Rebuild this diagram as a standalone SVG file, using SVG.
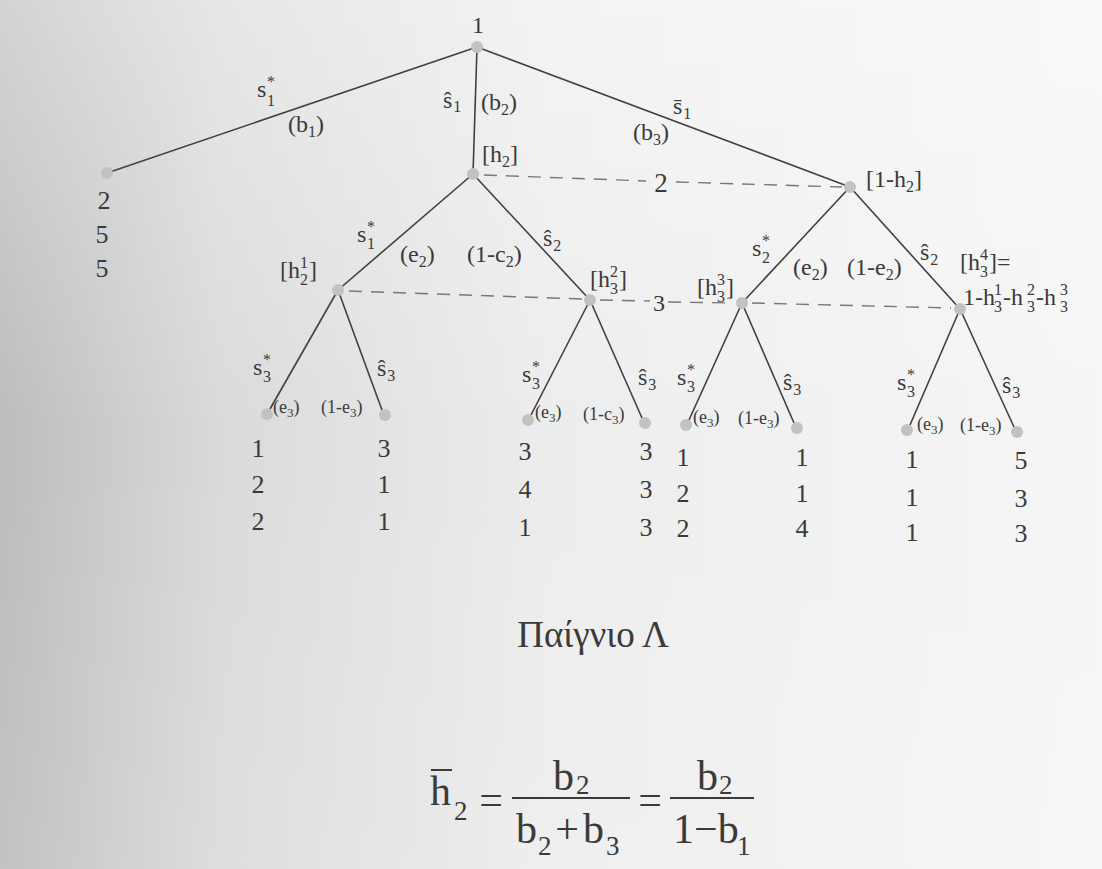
<svg xmlns="http://www.w3.org/2000/svg" width="1102" height="869" viewBox="0 0 1102 869">
<defs>
<linearGradient id="bg" x1="0" y1="0" x2="1" y2="0">
<stop offset="0" stop-color="#bcbcbc"/>
<stop offset="0.2" stop-color="#dadada"/>
<stop offset="0.5" stop-color="#ededed"/>
<stop offset="1" stop-color="#f6f6f6"/>
</linearGradient>
<linearGradient id="bgv" x1="0" y1="0" x2="0" y2="1">
<stop offset="0" stop-color="#ffffff" stop-opacity="0.35"/>
<stop offset="0.5" stop-color="#ffffff" stop-opacity="0"/>
<stop offset="1" stop-color="#ffffff" stop-opacity="0.1"/>
</linearGradient>
</defs>
<rect width="1102" height="869" fill="url(#bg)"/>
<rect width="1102" height="869" fill="url(#bgv)"/>

<g id="connectors" fill="none">
<g stroke="#404040" stroke-width="1.6">
<line x1="477" y1="47" x2="107" y2="173"/>
<line x1="477" y1="47" x2="473" y2="174"/>
<line x1="477" y1="47" x2="850" y2="187"/>
<line x1="473" y1="174" x2="338" y2="290"/>
<line x1="473" y1="174" x2="590" y2="300"/>
<line x1="850" y1="187" x2="742" y2="303"/>
<line x1="850" y1="187" x2="960" y2="309"/>
<line x1="338" y1="290" x2="270" y2="409"/>
<line x1="338" y1="290" x2="382" y2="410"/>
<line x1="590" y1="300" x2="531" y2="415"/>
<line x1="590" y1="300" x2="642" y2="418"/>
<line x1="742" y1="303" x2="689" y2="420"/>
<line x1="742" y1="303" x2="794" y2="423"/>
<line x1="960" y1="309" x2="910" y2="425"/>
<line x1="960" y1="309" x2="1014" y2="427"/>
</g>
<g stroke="#777777" stroke-width="1.4" stroke-dasharray="13 9">
<line x1="484" y1="175" x2="646" y2="181"/>
<line x1="676" y1="182" x2="842" y2="187"/>
<line x1="349" y1="291" x2="582" y2="299"/>
<line x1="600" y1="300" x2="650" y2="301"/>
<line x1="668" y1="302" x2="734" y2="303"/>
<line x1="752" y1="303" x2="951" y2="308"/>
</g>
</g>

<g id="nodes" fill="#3a3a3a" font-family="Liberation Serif">
<g id="root">
<circle fill="#c2c2c2" cx="477" cy="47" r="6"/>
<text font-family="Liberation Serif" font-size="24" x="478" y="33" text-anchor="middle">1</text>
</g>
<g id="leaf0" text-anchor="middle">
<circle fill="#c2c2c2" cx="107" cy="173" r="6"/>
<text font-family="Liberation Serif" font-size="26" x="104" y="209">2</text>
<text font-family="Liberation Serif" font-size="26" x="102" y="243">5</text>
<text font-family="Liberation Serif" font-size="26" x="102" y="277">5</text>
</g>
<g id="edge-labels-1">
<text font-family="Liberation Serif" font-size="24" x="257" y="97">s</text><text font-family="Liberation Serif" font-size="16" x="267" y="87">*</text><text font-family="Liberation Serif" font-size="16" x="267" y="106">1</text>
<text font-family="Liberation Serif" font-size="24" x="288" y="132">(b<tspan font-size="16" dy="5">1</tspan><tspan dy="-5">)</tspan></text>
<text font-family="Liberation Serif" font-size="24" x="443" y="108">ŝ<tspan font-size="16" dx="1" dy="4">1</tspan></text>
<text font-family="Liberation Serif" font-size="24" x="481" y="110">(b<tspan font-size="16" dy="5">2</tspan><tspan dy="-5">)</tspan></text>
<text font-family="Liberation Serif" font-size="24" x="673" y="114">s̄<tspan font-size="16" dx="1" dy="5">1</tspan></text>
<text font-family="Liberation Serif" font-size="24" x="633" y="140">(b<tspan font-size="16" dy="5">3</tspan><tspan dy="-5">)</tspan></text>
</g>
<g id="h2">
<circle fill="#c2c2c2" cx="473" cy="174" r="6"/>
<text font-family="Liberation Serif" font-size="24" x="482" y="162">[h<tspan font-size="16" dy="5">2</tspan><tspan dy="-5">]</tspan></text>
</g>
<g id="one-minus-h2">
<circle fill="#c2c2c2" cx="850" cy="187" r="6"/>
<text font-family="Liberation Serif" font-size="24" x="866" y="187">[1-h<tspan font-size="16" dy="5">2</tspan><tspan dy="-5">]</tspan></text>
</g>
<g id="info2">
<text font-family="Liberation Serif" font-size="27" x="661" y="192" text-anchor="middle">2</text>
</g>
<g id="edge-labels-2">
<text font-family="Liberation Serif" font-size="24" x="357" y="242">s</text><text font-family="Liberation Serif" font-size="16" x="367" y="232">*</text><text font-family="Liberation Serif" font-size="16" x="367" y="249">1</text>
<text font-family="Liberation Serif" font-size="24" x="400" y="262">(e<tspan font-size="16" dy="5">2</tspan><tspan dy="-5">)</tspan></text>
<text font-family="Liberation Serif" font-size="24" x="467" y="262">(1-c<tspan font-size="16" dy="5">2</tspan><tspan dy="-5">)</tspan></text>
<text font-family="Liberation Serif" font-size="24" x="543" y="246">ŝ<tspan font-size="16" dx="1" dy="5">2</tspan></text>
<text font-family="Liberation Serif" font-size="24" x="752" y="256">s</text><text font-family="Liberation Serif" font-size="16" x="762" y="246">*</text><text font-family="Liberation Serif" font-size="16" x="762" y="263">2</text>
<text font-family="Liberation Serif" font-size="24" x="793" y="275">(e<tspan font-size="16" dy="5">2</tspan><tspan dy="-5">)</tspan></text>
<text font-family="Liberation Serif" font-size="24" x="847" y="275">(1-e<tspan font-size="16" dy="5">2</tspan><tspan dy="-5">)</tspan></text>
<text font-family="Liberation Serif" font-size="24" x="920" y="260">ŝ<tspan font-size="16" dx="1" dy="5">2</tspan></text>
</g>
<g id="h2-1">
<circle fill="#c2c2c2" cx="338" cy="290" r="6"/>
<text font-family="Liberation Serif" font-size="24" x="280" y="278">[h</text><text font-family="Liberation Serif" font-size="16" x="300" y="268">1</text><text font-family="Liberation Serif" font-size="16" x="300" y="285">2</text><text font-family="Liberation Serif" font-size="24" x="309" y="278">]</text>
</g>
<g id="h3-2">
<circle fill="#c2c2c2" cx="590" cy="300" r="6"/>
<text font-family="Liberation Serif" font-size="24" x="590" y="287">[h</text><text font-family="Liberation Serif" font-size="16" x="610" y="277">2</text><text font-family="Liberation Serif" font-size="16" x="610" y="294">3</text><text font-family="Liberation Serif" font-size="24" x="619" y="287">]</text>
</g>
<g id="info3">
<text font-family="Liberation Serif" font-size="24" x="659" y="311" text-anchor="middle">3</text>
</g>
<g id="h3-3">
<circle fill="#c2c2c2" cx="742" cy="303" r="6"/>
<text font-family="Liberation Serif" font-size="24" x="697" y="295">[h</text><text font-family="Liberation Serif" font-size="16" x="717" y="285">3</text><text font-family="Liberation Serif" font-size="16" x="717" y="302">3</text><text font-family="Liberation Serif" font-size="24" x="726" y="295">]</text>
</g>
<g id="h3-4">
<circle fill="#c2c2c2" cx="960" cy="309" r="6"/>
<text font-family="Liberation Serif" font-size="24" x="960" y="270">[h</text><text font-family="Liberation Serif" font-size="16" x="980" y="260">4</text><text font-family="Liberation Serif" font-size="16" x="980" y="277">3</text><text font-family="Liberation Serif" font-size="24" x="989" y="270">]=</text>
<text font-family="Liberation Serif" font-size="24" x="963" y="305">1-h</text><text font-family="Liberation Serif" font-size="16" x="994" y="295">1</text><text font-family="Liberation Serif" font-size="16" x="994" y="312">3</text>
<text font-family="Liberation Serif" font-size="24" x="1003" y="305">-h</text><text font-family="Liberation Serif" font-size="16" x="1027" y="295">2</text><text font-family="Liberation Serif" font-size="16" x="1027" y="312">3</text>
<text font-family="Liberation Serif" font-size="24" x="1036" y="305">-h</text><text font-family="Liberation Serif" font-size="16" x="1060" y="295">3</text><text font-family="Liberation Serif" font-size="16" x="1060" y="312">3</text>
</g>

<g id="sub1">
<text font-family="Liberation Serif" font-size="24" x="253" y="375">s</text><text font-family="Liberation Serif" font-size="16" x="263" y="365">*</text><text font-family="Liberation Serif" font-size="16" x="263" y="382">3</text>
<text font-family="Liberation Serif" font-size="24" x="377" y="376">ŝ<tspan font-size="16" dx="1" dy="5">3</tspan></text>
<text font-family="Liberation Serif" font-size="18" x="273" y="413">(e<tspan font-size="13" dy="4">3</tspan><tspan dy="-4">)</tspan></text>
<text font-family="Liberation Serif" font-size="18" x="321" y="413">(1-e<tspan font-size="13" dy="4">3</tspan><tspan dy="-4">)</tspan></text>
</g>
<g id="leaf1" text-anchor="middle">
<circle fill="#c2c2c2" cx="267" cy="414" r="6"/>
<text font-family="Liberation Serif" font-size="26" x="258" y="457">1</text><text font-family="Liberation Serif" font-size="26" x="258" y="493">2</text><text font-family="Liberation Serif" font-size="26" x="258" y="530">2</text>
</g>
<g id="leaf2" text-anchor="middle">
<circle fill="#c2c2c2" cx="385" cy="415" r="6"/>
<text font-family="Liberation Serif" font-size="26" x="384" y="457">3</text><text font-family="Liberation Serif" font-size="26" x="384" y="493">1</text><text font-family="Liberation Serif" font-size="26" x="384" y="530">1</text>
</g>

<g id="sub2">
<text font-family="Liberation Serif" font-size="24" x="522" y="382">s</text><text font-family="Liberation Serif" font-size="16" x="532" y="372">*</text><text font-family="Liberation Serif" font-size="16" x="532" y="389">3</text>
<text font-family="Liberation Serif" font-size="24" x="638" y="385">ŝ<tspan font-size="16" dx="1" dy="5">3</tspan></text>
<text font-family="Liberation Serif" font-size="18" x="535" y="418">(e<tspan font-size="13" dy="4">3</tspan><tspan dy="-4">)</tspan></text>
<text font-family="Liberation Serif" font-size="18" x="583" y="420">(1-c<tspan font-size="13" dy="4">3</tspan><tspan dy="-4">)</tspan></text>
</g>
<g id="leaf3" text-anchor="middle">
<circle fill="#c2c2c2" cx="528" cy="420" r="6"/>
<text font-family="Liberation Serif" font-size="26" x="525" y="460">3</text><text font-family="Liberation Serif" font-size="26" x="525" y="498">4</text><text font-family="Liberation Serif" font-size="26" x="525" y="536">1</text>
</g>
<g id="leaf4" text-anchor="middle">
<circle fill="#c2c2c2" cx="645" cy="423" r="6"/>
<text font-family="Liberation Serif" font-size="26" x="646" y="460">3</text><text font-family="Liberation Serif" font-size="26" x="646" y="498">3</text><text font-family="Liberation Serif" font-size="26" x="646" y="536">3</text>
</g>

<g id="sub3">
<text font-family="Liberation Serif" font-size="24" x="677" y="385">s</text><text font-family="Liberation Serif" font-size="16" x="687" y="375">*</text><text font-family="Liberation Serif" font-size="16" x="687" y="392">3</text>
<text font-family="Liberation Serif" font-size="24" x="783" y="390">ŝ<tspan font-size="16" dx="1" dy="5">3</tspan></text>
<text font-family="Liberation Serif" font-size="18" x="693" y="423">(e<tspan font-size="13" dy="4">3</tspan><tspan dy="-4">)</tspan></text>
<text font-family="Liberation Serif" font-size="18" x="738" y="424">(1-e<tspan font-size="13" dy="4">3</tspan><tspan dy="-4">)</tspan></text>
</g>
<g id="leaf5" text-anchor="middle">
<circle fill="#c2c2c2" cx="686" cy="425" r="6"/>
<text font-family="Liberation Serif" font-size="26" x="683" y="466">1</text><text font-family="Liberation Serif" font-size="26" x="683" y="502">2</text><text font-family="Liberation Serif" font-size="26" x="683" y="537">2</text>
</g>
<g id="leaf6" text-anchor="middle">
<circle fill="#c2c2c2" cx="797" cy="428" r="6"/>
<text font-family="Liberation Serif" font-size="26" x="802" y="466">1</text><text font-family="Liberation Serif" font-size="26" x="802" y="502">1</text><text font-family="Liberation Serif" font-size="26" x="802" y="537">4</text>
</g>

<g id="sub4">
<text font-family="Liberation Serif" font-size="24" x="897" y="390">s</text><text font-family="Liberation Serif" font-size="16" x="907" y="380">*</text><text font-family="Liberation Serif" font-size="16" x="907" y="397">3</text>
<text font-family="Liberation Serif" font-size="24" x="1002" y="393">ŝ<tspan font-size="16" dx="1" dy="5">3</tspan></text>
<text font-family="Liberation Serif" font-size="18" x="917" y="430">(e<tspan font-size="13" dy="4">3</tspan><tspan dy="-4">)</tspan></text>
<text font-family="Liberation Serif" font-size="18" x="960" y="431">(1-e<tspan font-size="13" dy="4">3</tspan><tspan dy="-4">)</tspan></text>
</g>
<g id="leaf7" text-anchor="middle">
<circle fill="#c2c2c2" cx="907" cy="430" r="6"/>
<text font-family="Liberation Serif" font-size="26" x="912" y="468">1</text><text font-family="Liberation Serif" font-size="26" x="912" y="506">1</text><text font-family="Liberation Serif" font-size="26" x="912" y="541">1</text>
</g>
<g id="leaf8" text-anchor="middle">
<circle fill="#c2c2c2" cx="1017" cy="432" r="6"/>
<text font-family="Liberation Serif" font-size="26" x="1021" y="469">5</text><text font-family="Liberation Serif" font-size="26" x="1021" y="507">3</text><text font-family="Liberation Serif" font-size="26" x="1021" y="542">3</text>
</g>

<g id="title">
<text font-family="Liberation Serif" font-size="37" x="593" y="647" text-anchor="middle">Παίγνιο Λ</text>
</g>

<g id="formula">
<line x1="431" y1="770" x2="452" y2="770" stroke="#3a3a3a" stroke-width="2"/>
<text font-family="Liberation Serif" font-size="42" x="430" y="805">h</text>
<text font-family="Liberation Serif" font-size="27" x="454" y="820">2</text>
<text font-family="Liberation Serif" font-size="42" x="491" y="814" text-anchor="middle">=</text>
<line x1="512" y1="798" x2="630" y2="798" stroke="#3a3a3a" stroke-width="2"/>
<text font-family="Liberation Serif" font-size="42" x="553" y="790">b</text><text font-family="Liberation Serif" font-size="27" x="576" y="794">2</text>
<text font-family="Liberation Serif" font-size="42" x="516" y="843">b</text><text font-family="Liberation Serif" font-size="27" x="538" y="855">2</text>
<text font-family="Liberation Serif" font-size="42" x="567" y="843" text-anchor="middle">+</text>
<text font-family="Liberation Serif" font-size="42" x="583" y="843">b</text><text font-family="Liberation Serif" font-size="27" x="606" y="855">3</text>
<text font-family="Liberation Serif" font-size="42" x="650" y="814" text-anchor="middle">=</text>
<line x1="670" y1="798" x2="754" y2="798" stroke="#3a3a3a" stroke-width="2"/>
<text font-family="Liberation Serif" font-size="42" x="697" y="790">b</text><text font-family="Liberation Serif" font-size="27" x="719" y="794">2</text>
<text font-family="Liberation Serif" font-size="42" x="673" y="843">1−b</text><text font-family="Liberation Serif" font-size="27" x="737" y="855">1</text>
</g>
</g>
</svg>
